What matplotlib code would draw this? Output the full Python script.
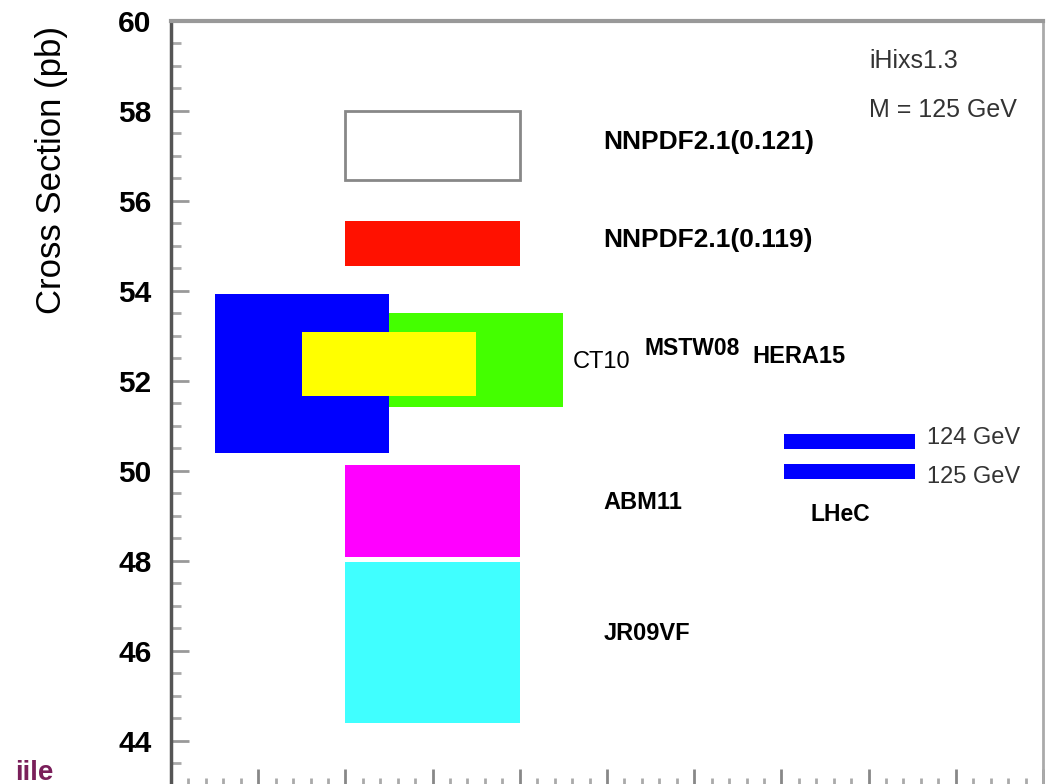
import matplotlib
matplotlib.use('Agg')
import numpy as np
import matplotlib.pyplot as plt
from matplotlib.ticker import MultipleLocator

plt.rcParams['font.family'] = ['Liberation Sans', 'DejaVu Sans']

# cross section bands per PDF set (pb)
pdf_sets = ['NNPDF2.1(0.121)', 'NNPDF2.1(0.119)', 'CT10', 'MSTW08', 'HERA15', 'ABM11', 'JR09VF']
xs_lo = [56.46, 54.54, 51.43, 50.40, 51.67, 48.08, 44.39]
xs_hi = [58.00, 55.56, 53.51, 53.92, 53.09, 50.12, 47.97]
pdf_slot = [3.0, 3.0, 3.5, 1.5, 2.5, 3.0, 3.0]
pdf_colors = ['white', '#ff1100', '#44ff00', '#0000ff', '#ffff00', '#ff00ff', '#40ffff']

# LHeC projections
lhec_mass = ['124 GeV', '125 GeV']
lhec_lo = [50.49, 49.83]
lhec_hi = [50.82, 50.15]

fig = plt.figure(figsize=(10.51, 7.84), dpi=100)
ax = fig.add_axes([171 / 1051, -2 / 784, (1043 - 171) / 1051, (786 - 20.7) / 784])

heights = np.array(xs_hi) - np.array(xs_lo)
edges = ['#888888'] + ['none'] * (len(pdf_sets) - 1)
ax.bar(pdf_slot, heights, bottom=xs_lo, width=2.0, color=pdf_colors,
       edgecolor=edges, linewidth=2, align='center')

ax.bar([7.78] * len(lhec_mass), np.array(lhec_hi) - np.array(lhec_lo), bottom=lhec_lo,
       width=1.5, color='#0000ff', edgecolor='none')

ax.set_xlim(0, 10)
ax.set_ylim(43, 60)
ax.yaxis.set_major_locator(MultipleLocator(2))
ax.yaxis.set_minor_locator(MultipleLocator(0.5))
ax.xaxis.set_major_locator(MultipleLocator(1))
ax.xaxis.set_minor_locator(MultipleLocator(0.2))
ax.tick_params(axis='y', which='major', direction='in', length=13, width=2, color='#999999',
               pad=14, labelsize=21.5)
ax.tick_params(axis='y', which='minor', direction='in', length=7.5, width=2, color='#aaaaaa')
ax.tick_params(axis='x', which='major', direction='in', length=12, width=2, color='#888888',
               labelbottom=False)
ax.tick_params(axis='x', which='minor', direction='in', length=6, width=2, color='#aaaaaa')
for lab in ax.get_yticklabels():
    lab.set_fontweight('bold')

ax.spines['left'].set_color('#555555')
ax.spines['left'].set_linewidth(2.5)
ax.spines['top'].set_color('#999999')
ax.spines['top'].set_linewidth(3)
ax.spines['right'].set_color('#aaaaaa')
ax.spines['right'].set_linewidth(2)
ax.spines['bottom'].set_color('#777777')

# labels
lab_kw = dict(fontsize=17, fontweight='bold', va='center', ha='left')
ax.text(4.96, 57.30, pdf_sets[0], fontsize=19, fontweight='bold', va='center', ha='left')
ax.text(4.96, 55.12, pdf_sets[1], fontsize=19, fontweight='bold', va='center', ha='left')
ax.text(4.61, 52.42, pdf_sets[2], fontsize=17, va='center', ha='left')
ax.text(5.43, 52.71, pdf_sets[3], fontsize=16.5, fontweight='bold', va='center', ha='left')
ax.text(6.67, 52.55, pdf_sets[4], **lab_kw)
ax.text(4.96, 49.29, pdf_sets[5], **lab_kw)
ax.text(4.96, 46.38, pdf_sets[6], **lab_kw)

gev_kw = dict(fontsize=17, va='center', ha='left', color='#333333')
ax.text(8.67, 50.73, lhec_mass[0], **gev_kw)
ax.text(8.67, 49.87, lhec_mass[1], **gev_kw)
ax.text(7.33, 49.02, 'LHeC', fontsize=16.5, fontweight='bold', va='center', ha='left')
ax.text(8.01, 59.1, 'iHixs1.3', fontsize=18, va='center', ha='left', color='#333333')
ax.text(8.01, 58.02, 'M = 125 GeV', fontsize=18, va='center', ha='left', color='#333333')

fig.text(52 / 1051, 1 - 170 / 784, 'Cross Section (pb)', rotation=90, fontsize=25,
         ha='center', va='center')
fig.text(15 / 1051, 4 / 784, 'iile', fontsize=20, fontweight='bold', color='#7a1f5a',
         ha='left', va='baseline')

fig.savefig('out.png', dpi=100)
